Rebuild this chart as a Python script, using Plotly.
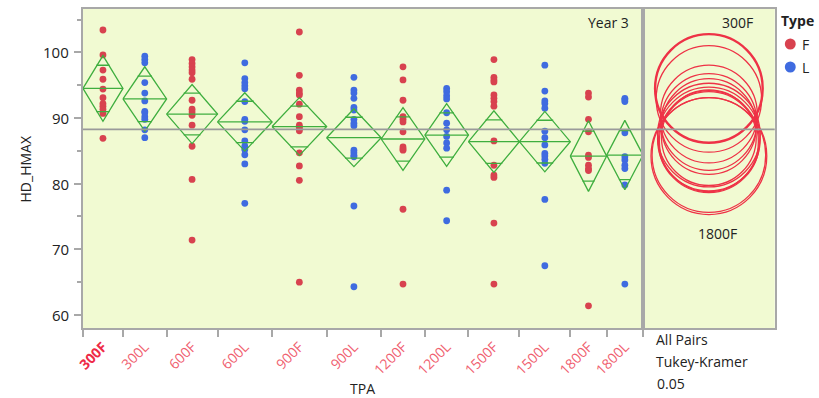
import numpy as np
import plotly.graph_objects as go

# ---- data -------------------------------------------------------------
categories = ["300F", "300L", "600F", "600L", "900F", "900L",
              "1200F", "1200L", "1500F", "1500L", "1800F", "1800L"]

hmax_300F = [103.4, 99.6, 97.3, 95.9, 94.4, 93.1, 92.2, 91.8, 91.35, 90.7, 86.9]
hmax_300L = [99.4, 98.9, 98.4, 95.4, 93.8, 92.6, 91.0, 90.8, 90.2, 89.8, 88.2, 87.0]
hmax_600F = [98.9, 98.3, 97.8, 97.3, 96.9, 95.9, 92.7, 91.35, 90.9, 90.4, 88.9,
             85.7, 80.65, 71.4]
hmax_600L = [98.4, 96.0, 95.4, 94.9, 94.45, 92.5, 89.8, 89.5, 88.2, 86.5, 85.7,
             85.2, 84.4, 83.0, 77.0]
hmax_900F = [103.1, 96.5, 94.25, 93.8, 93.5, 92.1, 90.2, 88.9, 88.6, 88.3, 88.05,
             84.7, 82.7, 80.5, 65.0]
hmax_900L = [96.2, 94.25, 93.8, 93.0, 91.6, 91.2, 89.8, 89.2, 88.8, 85.1, 84.7,
             84.3, 84.1, 76.6, 64.3]
hmax_1200F = [97.8, 95.8, 92.7, 90.2, 89.8, 89.4, 87.9, 85.6, 85.3, 85.1, 76.1, 64.7]
hmax_1200L = [94.5, 94.0, 93.4, 92.9, 90.8, 89.2, 88.2, 87.2, 86.2, 85.4, 79.0, 74.35]
hmax_1500F = [98.9, 96.2, 95.8, 95.5, 93.5, 93.0, 92.5, 91.8, 86.5, 82.8, 81.3,
              80.95, 74.0, 64.7]
hmax_1500L = [98.05, 94.1, 92.6, 92.2, 91.5, 88.0, 87.0, 85.9, 84.6, 84.2, 83.7,
              83.1, 77.6, 67.5]
hmax_1800F = [93.8, 93.2, 89.8, 87.9, 84.35, 84.0, 82.8, 82.3, 82.0, 61.4]
hmax_1800L = [93.0, 92.8, 92.5, 87.75, 84.1, 83.6, 82.8, 82.3, 79.8, 64.7]

group_values = [hmax_300F, hmax_300L, hmax_600F, hmax_600L, hmax_900F, hmax_900L,
                hmax_1200F, hmax_1200L, hmax_1500F, hmax_1500L, hmax_1800F, hmax_1800L]

# group means and 95% CI half-widths (means diamonds)
group_mean = [94.5, 92.9, 90.6, 89.4, 88.7, 87.0, 86.8, 87.4, 86.4, 86.4, 84.2, 84.35]
ci_half = [5.0, 4.9, 4.5, 4.45, 4.4, 4.4, 4.77, 4.77, 4.69, 4.6, 5.38, 5.28]
grand_mean = 88.27

T_CRIT = 1.976      # t quantile for the 95% diamonds
Q_STAR = 3.27       # Tukey-Kramer q* for all-pairs comparison circles

y_ticks = [60, 70, 80, 90, 100]
y_range = [57.97, 106.6]

type_names = ["F", "L"]

# ---- style --------------------------------------------------------------
FONT = "Open Sans"
RED = "#d8424f"
BLUE = "#3f6be0"
GREEN = "#3fae3f"
CIRCLE = "#ee3246"
FRAME = "#a8a8a8"
BG = "#f1fad2"
TXT = "#222222"
W, H = 819, 398
type_colors = {"F": RED, "L": BLUE}

# panel geometry (pixels)
px_left, px_split, px_right = 75.7, 641.3, 774.3
px_top, px_bottom = 9.0, 328.3
dom_x = [px_left / W, px_split / W]
dom_x2 = [px_split / W, px_right / W]
dom_y = [(H - px_bottom) / H, (H - px_top) / H]

# ---- grouped x axis (width proportional to group size) ------------------
n = np.array([len(v) for v in group_values], dtype=float)
edges = np.concatenate([[0.0], np.cumsum(n)])
centers = edges[:-1] + n / 2.0
total = edges[-1]

fig = go.Figure()

# observations coloured by Type
for t in type_names:
    xs, ys = [], []
    for cat, c, vals in zip(categories, centers, group_values):
        if cat.endswith(t):
            xs += [c] * len(vals)
            ys += list(vals)
    fig.add_trace(go.Scatter(
        x=xs, y=ys, mode="markers", name=t,
        marker=dict(color=type_colors[t], size=6.8, line=dict(width=0)),
        xaxis="x", yaxis="y", showlegend=False, cliponaxis=False))

# means diamonds with overlap marks
dx, dy = [], []
ov = np.sqrt(2) / 2
for lo, hi, c, m, h in zip(edges[:-1], edges[1:], centers, group_mean, ci_half):
    dx += [lo, c, hi, c, lo, None, lo, hi, None]
    dy += [m, m + h, m, m - h, m, None, m, m, None]
    hw = (hi - lo) / 2 * (1 - ov) * 1.12
    for s in (1, -1):
        dx += [c - hw, c + hw, None]
        dy += [m + s * h * ov, m + s * h * ov, None]
fig.add_trace(go.Scatter(x=dx, y=dy, mode="lines", showlegend=False,
                         line=dict(color=GREEN, width=1.3),
                         xaxis="x", yaxis="y", hoverinfo="skip"))

# comparison circles (all pairs, Tukey-Kramer)
y_px_per_unit = (px_bottom - px_top) / (y_range[1] - y_range[0])
half_span = (px_right - px_split) / y_px_per_unit / 2.0
shapes = []
order = list(range(1, len(categories))) + [0]
for i in order:
    r = ci_half[i] / T_CRIT * Q_STAR
    shapes.append(dict(type="circle", xref="x2", yref="y2",
                       x0=-r, x1=r, y0=group_mean[i] - r, y1=group_mean[i] + r,
                       line=dict(color=CIRCLE, width=2.4 if i == 0 else 1.3),
                       layer="above"))

# grand mean reference line across both panels
shapes.append(dict(type="line", xref="paper", yref="y",
                   x0=dom_x[0], x1=dom_x2[1], y0=grand_mean, y1=grand_mean,
                   line=dict(color="#9a9a9a", width=1.6), layer="above"))

# legend swatches
legend_x, legend_y0, legend_dy = 790, 44, 23
for k, t in enumerate(type_names):
    cy = legend_y0 + k * legend_dy
    shapes.append(dict(type="circle", xref="paper", yref="paper",
                       x0=(legend_x - 5.5) / W, x1=(legend_x + 5.5) / W,
                       y0=1 - (cy + 5.5) / H, y1=1 - (cy - 5.5) / H,
                       fillcolor=type_colors[t], line=dict(width=0)))

tick_text = []
for cat in categories:
    if cat == "300F":
        tick_text.append("<b><span style='color:#ee2a46'>300F</span></b>")
    else:
        tick_text.append(cat)

axis_common = dict(showgrid=False, zeroline=False, showline=True,
                   linecolor=FRAME, linewidth=1.5, mirror=True)

fig.update_layout(
    width=W, height=H,
    margin=dict(l=0, r=0, t=0, b=0),
    paper_bgcolor="white", plot_bgcolor=BG,
    font=dict(family=FONT, size=14, color=TXT),
    shapes=shapes,
    showlegend=False,
    xaxis=dict(domain=dom_x, range=[0, total], anchor="y",
               tickmode="array", tickvals=list(edges),
               ticktext=[""] * len(edges), ticks="outside", ticklen=7,
               tickcolor=FRAME, tickwidth=1.5, **axis_common),
    xaxis3=dict(overlaying="x", anchor="y", range=[0, total], side="bottom",
                tickmode="array", tickvals=list(centers), ticktext=tick_text,
                tickangle=-45, ticks="outside", ticklen=4,
                tickcolor="rgba(0,0,0,0)",
                tickfont=dict(family=FONT, size=14, color="#f0606f"),
                showgrid=False, zeroline=False, showline=False),
    yaxis=dict(domain=dom_y, range=y_range, anchor="x",
               tickmode="array", tickvals=y_ticks, ticks="outside", ticklen=7,
               tickcolor=FRAME, tickwidth=1.5, showticklabels=False,
               minor=dict(dtick=5, tick0=0, ticks="outside", ticklen=4,
                          tickcolor=FRAME, tickwidth=1.5, showgrid=False),
               **axis_common),
    xaxis2=dict(domain=dom_x2, range=[-half_span, half_span], anchor="y2",
                showticklabels=False, ticks="", **axis_common),
    yaxis2=dict(domain=dom_y, range=y_range, anchor="x2",
                showticklabels=False, ticks="", **axis_common),
)

# empty trace so the category label axis gets drawn
fig.add_trace(go.Scatter(x=[centers[0]], y=[None], xaxis="x3", yaxis="y",
                         showlegend=False, hoverinfo="skip"))

# y tick labels, placed on the y scale
for v in y_ticks:
    fig.add_annotation(xref="paper", yref="y", x=63.5 / W, y=v,
                       xanchor="right", yanchor="middle", showarrow=False,
                       text=str(v), font=dict(size=15, color=TXT))

ann = [
    dict(text="Year 3", x=(px_split - 12) / W, y=1 - 22 / H, xanchor="right"),
    dict(text="300F", x=737 / W, y=1 - 22 / H, xanchor="center"),
    dict(text="1800F", x=717 / W, y=1 - 233 / H, xanchor="center"),
    dict(text="All Pairs", x=652 / W, y=1 - 339 / H, xanchor="left"),
    dict(text="Tukey-Kramer", x=652 / W, y=1 - 361 / H, xanchor="left"),
    dict(text="0.05", x=653 / W, y=1 - 383 / H, xanchor="left"),
    dict(text="TPA", x=(dom_x[0] + dom_x[1]) / 2, y=1 - 388 / H, xanchor="center"),
    dict(text="HD_HMAX", x=18 / W, y=(dom_y[0] + dom_y[1]) / 2, xanchor="center",
         textangle=-90),
    dict(text="<b>Type</b>", x=779 / W, y=1 - 20 / H, xanchor="left"),
]
for k, t in enumerate(type_names):
    ann.append(dict(text=t, x=(legend_x + 10) / W,
                    y=1 - (legend_y0 + k * legend_dy) / H, xanchor="left"))
for a in ann:
    fig.add_annotation(xref="paper", yref="paper", yanchor="middle",
                       showarrow=False, font=dict(size=14, color=TXT), **a)

fig.write_html("out.html")
